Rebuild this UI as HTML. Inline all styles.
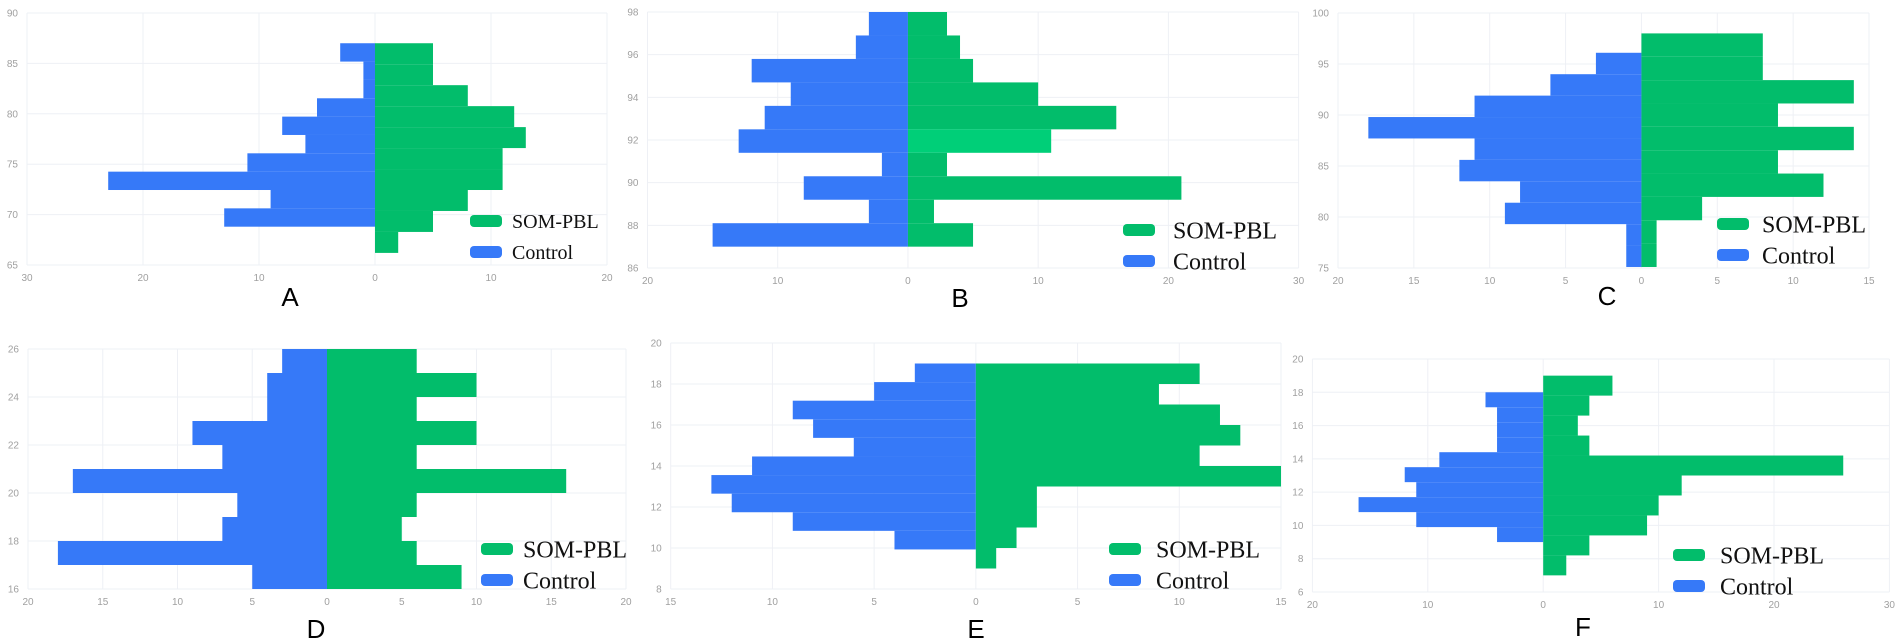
<!DOCTYPE html>
<html><head><meta charset="utf-8"><style>
html,body{margin:0;padding:0;background:#fff;}
svg{display:block;}
</style></head><body>
<svg id="fig" width="1902" height="643" viewBox="0 0 1902 643" xmlns="http://www.w3.org/2000/svg"></svg>
<script>
// ---- data (counts listed from top bin to bottom bin) ----
const A_somCounts = [5,5,8,12,13,11,11,8,5,2];
const A_ctrlCounts = [3,1,1,5,8,6,11,23,9,13];
const A_somBin = [87,2.08];
const A_ctrlBin = [87,1.82];

const B_somCounts = [3,4,5,10,16,11,3,21,2,5];
const B_ctrlCounts = [3,4,12,9,11,13,2,8,3,15];
const B_somBin = [98,1.1];
const B_ctrlBin = [98,1.1];

const C_somCounts = [8,8,14,9,14,9,12,4,1,1];
const C_ctrlCounts = [3,6,11,18,11,12,8,9,1,1];
const C_somBin = [98,2.29];
const C_ctrlBin = [96.1,2.1];

const D_somCounts = [6,10,6,10,6,16,6,5,6,9];
const D_ctrlCounts = [3,4,4,9,7,17,6,7,18,5];
const D_somBin = [26,1];
const D_ctrlBin = [26,1];

const E_somCounts = [11,9,12,13,11,15,3,3,2,1];
const E_ctrlCounts = [3,5,9,8,6,11,13,12,9,4];
const E_somBin = [19,1];
const E_ctrlBin = [19,0.907];

const F_somCounts = [6,4,3,4,26,12,10,9,4,2];
const F_ctrlCounts = [5,4,4,4,9,12,11,16,11,4];
const F_somBin = [19,1.2];
const F_ctrlBin = [18,0.9];

// ---- layout ----
const NS='http://www.w3.org/2000/svg';
const svg=document.getElementById('fig');
function mk(tag,attrs,parent){const e=document.createElementNS(NS,tag);for(const k in attrs)e.setAttribute(k,attrs[k]);(parent||svg).appendChild(e);return e;}

const panels=[
 {id:'a',letter:'A',l:27,r:607,t:13,b:265,xmin:-30,xmax:20,xs:10,ymin:65,ymax:90,ys:5,som:A_somCounts,ctrl:A_ctrlCounts,sb:A_somBin,cb:A_ctrlBin,lx:470,ly:215,tx:42,fs:20,px:290,py:306},
 {id:'b',letter:'B',l:647.5,r:1298.6,t:12,b:268,xmin:-20,xmax:30,xs:10,ymin:86,ymax:98,ys:2,som:B_somCounts,ctrl:B_ctrlCounts,sb:B_somBin,cb:B_ctrlBin,lx:1123,ly:224,tx:50,fs:24,px:960,py:307,light:5},
 {id:'c',letter:'C',l:1338,r:1869,t:13,b:268,xmin:-20,xmax:15,xs:5,ymin:75,ymax:100,ys:5,som:C_somCounts,ctrl:C_ctrlCounts,sb:C_somBin,cb:C_ctrlBin,lx:1717,ly:218,tx:45,fs:24,px:1607,py:305},
 {id:'d',letter:'D',l:28,r:626,t:349,b:589,xmin:-20,xmax:20,xs:5,ymin:16,ymax:26,ys:2,som:D_somCounts,ctrl:D_ctrlCounts,sb:D_somBin,cb:D_ctrlBin,lx:481,ly:543,tx:42,fs:24,px:316,py:638},
 {id:'e',letter:'E',l:670.7,r:1281,t:343,b:589,xmin:-15,xmax:15,xs:5,ymin:8,ymax:20,ys:2,som:E_somCounts,ctrl:E_ctrlCounts,sb:E_somBin,cb:E_ctrlBin,lx:1109,ly:543,tx:47,fs:24,px:976,py:638},
 {id:'f',letter:'F',l:1312.4,r:1889.4,t:359,b:592,xmin:-20,xmax:30,xs:10,ymin:6,ymax:20,ys:2,som:F_somCounts,ctrl:F_ctrlCounts,sb:F_somBin,cb:F_ctrlBin,lx:1673,ly:549,tx:47,fs:24,px:1583,py:636}
];

panels.forEach(p=>{
  const g=mk('g',{});
  
  
  const X=v=>p.l+(v-p.xmin)/(p.xmax-p.xmin)*(p.r-p.l);
  const Y=v=>p.b-(v-p.ymin)/(p.ymax-p.ymin)*(p.b-p.t);
  for(let v=p.xmin;v<=p.xmax+1e-9;v+=p.xs){
    const ln=mk('line',{x1:X(v),x2:X(v),y1:p.t,y2:p.b,stroke:'#eef0f5','stroke-width':1},g);
    
    
    const t=mk('text',{x:X(v),y:p.b+16,'text-anchor':'middle','font-size':10,fill:'#a0a0a0','font-family':'Liberation Sans, sans-serif'},g);
    t.textContent=Math.abs(v);
    
    
  }
  for(let v=p.ymin;v<=p.ymax+1e-9;v+=p.ys){
    const ln=mk('line',{x1:p.l,x2:p.r,y1:Y(v),y2:Y(v),stroke:'#eef0f5','stroke-width':1},g);
    
    
    const t=mk('text',{x:p.l-9,y:Y(v)+3.5,'text-anchor':'end','font-size':10,fill:'#a0a0a0','font-family':'Liberation Sans, sans-serif'},g);
    t.textContent=v;
    
    
  }
  p.ctrl.forEach((c,i)=>{
    const y0=p.cb[0]-i*p.cb[1], y1=y0-p.cb[1];
    const r=mk('rect',{x:X(-c),y:Y(y0),width:X(0)-X(-c),height:Y(y1)-Y(y0),fill:'#3679f8'},g);
    
    
  });
  p.som.forEach((c,i)=>{
    const y0=p.sb[0]-i*p.sb[1], y1=y0-p.sb[1];
    const r=mk('rect',{x:X(0),y:Y(y0),width:X(c)-X(0),height:Y(y1)-Y(y0),fill:(p.light===i?'#00cf78':'#02bd6b')},g);
    
    
  });
  const lg=mk('g',{},g);
  
  
  [['SOM-PBL','#02bd6b'],['Control','#3679f8']].forEach((it,k)=>{
    const sy=p.ly+k*31;
    const sw=mk('rect',{x:p.lx,y:sy,width:32,height:12,rx:4,fill:it[1]},lg);
    
    
    const t=mk('text',{x:p.lx+p.tx,y:sy+6+p.fs*0.35,'font-size':p.fs,fill:'#111','font-family':'Liberation Serif, serif'},lg);
    t.textContent=it[0];
    
    
  });
  const lt=mk('text',{x:p.px,y:p.py,'text-anchor':'middle','font-size':26,fill:'#000','font-family':'Liberation Sans, sans-serif'},g);
  lt.textContent=p.letter;
  
  
});
</script>
</body></html>
